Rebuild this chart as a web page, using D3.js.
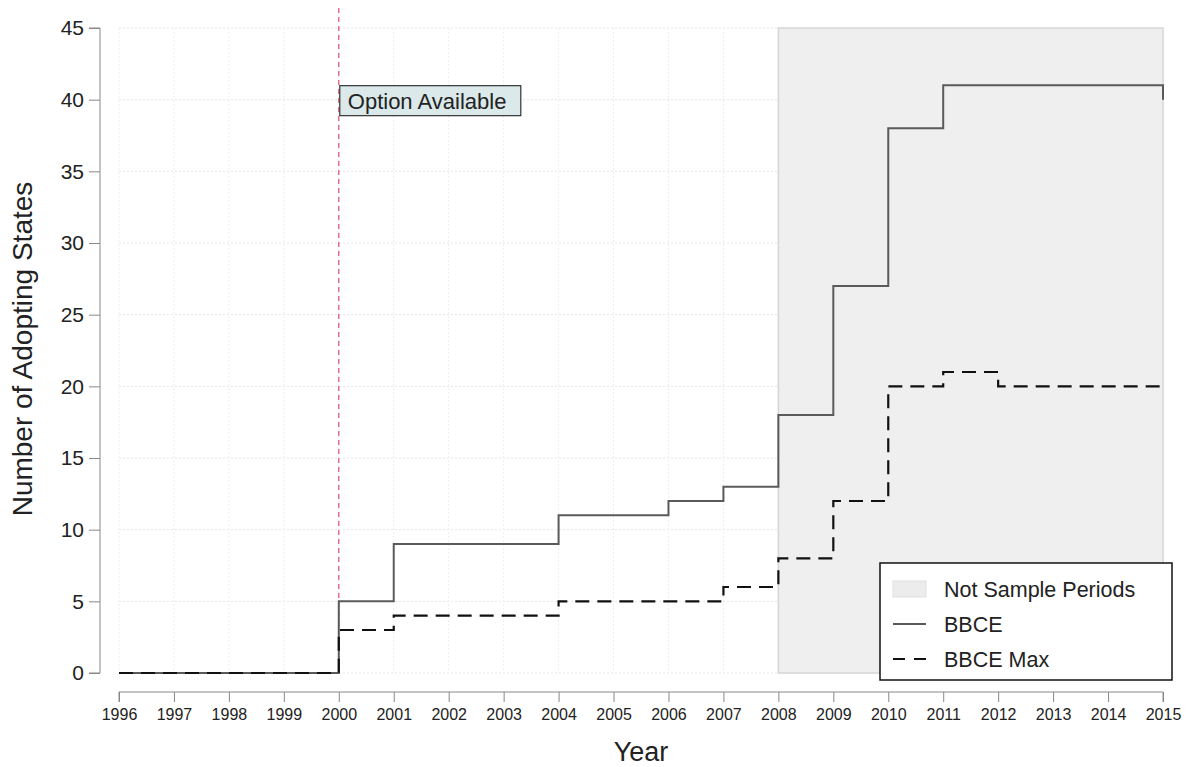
<!DOCTYPE html>
<html><head><meta charset="utf-8">
<script src="https://cdn.jsdelivr.net/npm/d3@7"></script>
<style>body{margin:0;background:#fff}svg{display:block}text{font-family:"Liberation Sans",Arial,sans-serif;fill:#222}</style>
</head><body>
<svg id="c" width="1189" height="767"></svg>
<script>
const years = [1996,1997,1998,1999,2000,2001,2002,2003,2004,2005,2006,2007,2008,2009,2010,2011,2012,2013,2014,2015];
const bbce    = [0,0,0,0,5,9,9,9,11,11,12,13,18,27,38,41,41,41,41,40];
const bbceMax = [0,0,0,0,3,4,4,4,5,5,5,6,8,12,20,21,20,20,20,20];
const yTicks = [0,5,10,15,20,25,30,35,40,45];
const shadeRange = [2008, 2015];
const optionYear = 2000;

const svg = d3.select("#c");
const x = d3.scaleLinear().domain([1996,2015]).range([119,1163]);
const y = d3.scaleLinear().domain([0,45]).range([673,28]);

// grid
svg.append("g").selectAll("line").data(yTicks).join("line")
  .attr("x1",x(1996)).attr("x2",x(2015)).attr("y1",d=>y(d)).attr("y2",d=>y(d))
  .attr("stroke","#e6e6e6").attr("stroke-width",1).attr("stroke-dasharray","2,2");
svg.append("g").selectAll("line").data(years).join("line")
  .attr("x1",d=>x(d)).attr("x2",d=>x(d)).attr("y1",y(45)).attr("y2",y(0))
  .attr("stroke","#eeeeee").attr("stroke-width",1).attr("stroke-dasharray","2,2");

// shaded region
svg.append("rect").attr("x",x(shadeRange[0])).attr("y",y(45))
  .attr("width",x(shadeRange[1])-x(shadeRange[0])).attr("height",y(0)-y(45))
  .attr("fill","#efefef").attr("stroke","#d6d6d6").attr("stroke-width",1.5);

// red vertical line
svg.append("line").attr("x1",x(optionYear)).attr("x2",x(optionYear)).attr("y1",8).attr("y2",y(0))
  .attr("stroke","#d9506e").attr("stroke-width",1.2).attr("stroke-dasharray","5,4");

// lines
const line = d3.line().x((d,i)=>x(years[i])).y(d=>y(d)).curve(d3.curveStepAfter);
svg.append("path").datum(bbce).attr("d",line).attr("fill","none")
  .attr("stroke","#5a5a5a").attr("stroke-width",2);
svg.append("path").datum(bbceMax).attr("d",line).attr("fill","none")
  .attr("stroke","#111").attr("stroke-width",2.2).attr("stroke-dasharray","14,8");

// axes
const yAxis = d3.axisLeft(y).tickValues(yTicks).tickSize(11).tickPadding(5);
const gy = svg.append("g").attr("transform","translate(100,0)").call(yAxis);
gy.select(".domain").attr("stroke","#888").attr("d",`M-11,${y(45)}H0V${y(0)}H-11`);
gy.selectAll(".tick line").attr("stroke","#888");
gy.selectAll("text").style("font-size","21px").attr("fill","#222").style("font-family","Liberation Sans, Arial, sans-serif");

const xAxis = d3.axisBottom(x).tickValues(years).tickFormat(d3.format("d")).tickSize(10).tickPadding(7);
const gx = svg.append("g").attr("transform","translate(0,692)").call(xAxis);
gx.select(".domain").attr("stroke","#888").attr("d",`M${x(1996)},10V0H${x(2015)}V10`);
gx.selectAll(".tick line").attr("stroke","#888");
gx.selectAll("text").style("font-size","16px").attr("fill","#222").style("font-family","Liberation Sans, Arial, sans-serif");

// titles
svg.append("text").attr("x",641).attr("y",761).attr("text-anchor","middle")
  .style("font-size","27px").text("Year");
svg.append("text").attr("transform","translate(32,349) rotate(-90)").attr("text-anchor","middle")
  .style("font-size","28px").text("Number of Adopting States");

// annotation
const ax = x(optionYear)+1, ay = y(40)-14;
svg.append("rect").attr("x",ax).attr("y",ay).attr("width",181).attr("height",30)
  .attr("fill","#dbe9ea").attr("stroke","#333").attr("stroke-width",1.2);
svg.append("text").attr("x",ax+8).attr("y",ay+23).style("font-size","22px").text("Option Available");

// legend
const lg = svg.append("g").attr("transform","translate(880,563)");
lg.append("rect").attr("width",292).attr("height",117).attr("fill","#fff").attr("stroke","#111").attr("stroke-width",1.5);
lg.append("rect").attr("x",13).attr("y",18).attr("width",33).attr("height",16).attr("fill","#ececec").attr("stroke","#e0e0e0");
lg.append("line").attr("x1",13).attr("x2",46).attr("y1",61).attr("y2",61).attr("stroke","#5a5a5a").attr("stroke-width",2);
lg.append("line").attr("x1",13).attr("x2",46).attr("y1",96).attr("y2",96).attr("stroke","#111").attr("stroke-width",2.2).attr("stroke-dasharray","12,9");
const labels = ["Not Sample Periods","BBCE","BBCE Max"];
lg.selectAll("text.l").data(labels).join("text").attr("class","l")
  .attr("x",64).attr("y",(d,i)=>34+i*35).style("font-size","21.5px").text(d=>d);
</script>
</body></html>
